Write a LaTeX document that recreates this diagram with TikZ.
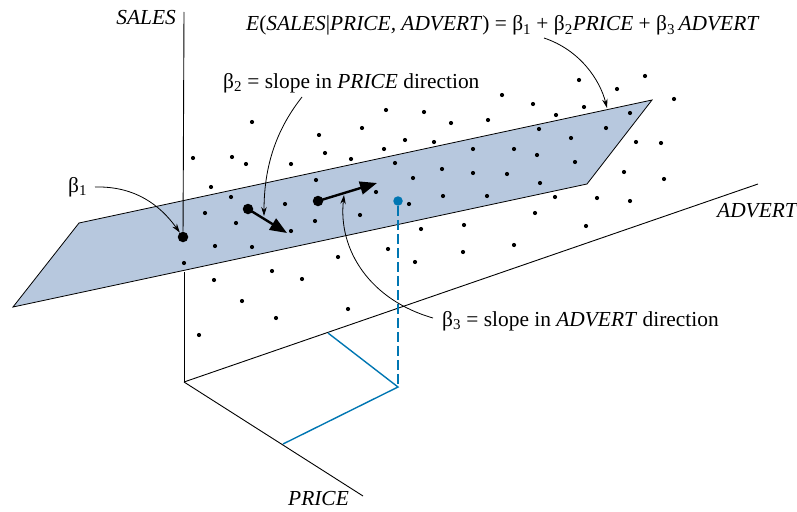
\documentclass[tikz,border=0pt]{standalone}
\usepackage{fontspec}
\setmainfont{Liberation Serif}
\usetikzlibrary{arrows.meta}
\definecolor{planeblue}{RGB}{183,200,222}
\definecolor{fitblue}{RGB}{0,118,178}

\begin{document}
\begin{tikzpicture}[x=1pt, y=-1pt,
  ax/.style={line width=0.9pt},
  plane/.style={fill=planeblue, draw=black, line width=0.8pt},
  bigpt/.style={circle, fill=black, inner sep=0pt, minimum size=10.5pt},
  fitpt/.style={circle, fill=fitblue, inner sep=0pt, minimum size=9.5pt},
  callout/.style={-{Stealth[length=9pt, width=5.5pt]}, line width=0.8pt},
  slope/.style={-{Triangle[length=17pt, width=13pt]}, line width=2.4pt},
  proj/.style={draw=fitblue, line width=1.4pt},
  lab/.style={inner sep=0pt, anchor=base west, font=\fontsize{21.4}{25}\selectfont}]
  \useasboundingbox (0,0) rectangle (797,511);
  % axes
  \coordinate (O) at (184,382);
  \coordinate (S) at (184,12);
  \coordinate (P) at (363,496);
  \coordinate (A) at (758,184);
  \coordinate (SP) at (184,272);
  \draw[ax] (SP) -- (O); \draw[ax] (O) -- (P); \draw[ax] (O) -- (A);
  % projection of the fitted point
  \coordinate (base) at (398,387);
  \coordinate (onA) at (328,333);
  \coordinate (onP) at (283,444);
  \draw[proj] (onA) -- (base) -- (onP);
  % regression plane
  \coordinate (LB) at (13,307); \coordinate (LT) at (79,223);
  \coordinate (RT) at (652,100); \coordinate (RB) at (587,184);
  \draw[plane] (LB) -- (LT) -- (RT) -- (RB) -- cycle;
  % observations
  \foreach \x/\y in {193/158,232/157,246/164,252/122,291/164,319/135,325/153,351/159,362/128,386/110,
    384/149,395/163,424/112,405/140,434/142,211/187,231/197,205/213,236/223,285/204,291/231,316/180,
    315/221,360/215,376/192,215/246,252/247,338/257,388/249,413/178,409/204,421/229,
    579/80,645/76,617/89,674/99,502/95,533/104,584/107,556/115,451/123,488/120,630/113,539/129,
    606/128,571/138,473/149,514/149,537/155,636/142,661/143,575/162,442/169,473/173,507/174,
    540/183,624/172,664/179,443/196,487/196,555/197,597/198,630/201,535/213,586/226,464/225,
    463/252,514/245,184/263,415/262,272/271,214/280,302/279,242/301,348/309,276/318,199/335}
    \fill (\x,\y) circle (2.1pt);
  \node[bigpt] (b1) at (183,237) {};
  \draw[ax] (S) -- (b1);
  \node[fitpt] (fit) at (398,201) {};
  \draw[proj, dash pattern=on 10pt off 4pt] (fit) -- (base);
  % slopes
  \node[bigpt] (p0) at (248,209) {};
  \node[bigpt] (a0) at (318,201) {};
  \coordinate (p1) at (287,233);
  \coordinate (a1) at (377,183);
  \draw[slope] (p0.center) -- (p1);
  \draw[slope] (a0.center) -- (a1);
  % labels
  \node[lab, anchor=base east] (sales) at (176,25) {\textit{SALES}};
  \node[lab] (price) at (288,505) {\textit{PRICE}};
  \node[lab] (advert) at (717,217) {\textit{ADVERT}};
  \node[lab] (eq) at (246,31) {\textit{E}(\textit{SALES}|\textit{PRICE, ADVERT}) = β\textsubscript{1} + β\textsubscript{2}\textit{PRICE} + β\textsubscript{3}\,\textit{ADVERT}};
  \node[lab] (b1lab) at (68,192) {β\textsubscript{1}};
  \node[lab] (b2lab) at (223,88) {β\textsubscript{2} = slope in \textit{PRICE} direction};
  \node[lab] (b3lab) at (442,326) {β\textsubscript{3} = slope in \textit{ADVERT} direction};
  % callouts
  \coordinate (b2end) at (264,216);
  \coordinate (eqend) at (607,108);
  \coordinate (b3end) at (344,195);
  \draw[callout] (95,187) .. controls (135,186) and (160,205) .. (b1);
  \draw[callout] (302,97) .. controls (280,125) and (264,160) .. (b2end);
  \draw[callout] (544,38) .. controls (580,50) and (600,80) .. (eqend);
  \draw[callout] (433,318) .. controls (370,300) and (338,250) .. (b3end);
\end{tikzpicture}
\end{document}
